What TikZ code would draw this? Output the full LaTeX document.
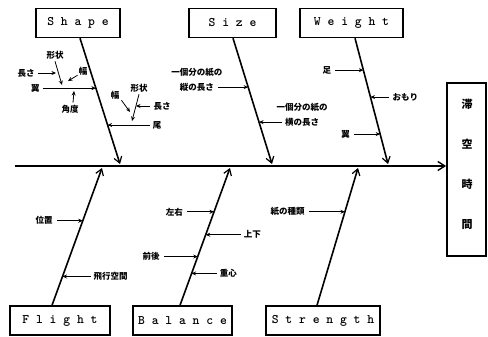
\documentclass[tikz,border=0pt]{standalone}
\usepackage{fontspec}
\newfontfamily\jp{Noto Sans CJK JP}
\usetikzlibrary{arrows.meta,calc}
\begin{document}
\begin{tikzpicture}[x=1pt,y=-1pt,
  cat/.style={draw,line width=1.4pt,minimum height=29pt,inner sep=0pt,font=\ttfamily\bfseries\fontsize{13}{13}\selectfont},
  main/.style={line width=1.6pt,-{Straight Barb[length=6pt,width=8pt,line width=1.2pt]}},
  sub/.style={line width=0.8pt,-{Stealth[length=4.5pt,width=4pt]}},
  jl/.style={font=\jp\bfseries\fontsize{8.5}{10}\selectfont,inner sep=0pt}]
\useasboundingbox[fill=white] (0,0) rectangle (488,337);

% category boxes
\node[cat,minimum width=84pt] (shape) at (78,23) {S h a p e};
\node[cat,minimum width=87pt] (size) at (232.5,23) {S i z e};
\node[cat,minimum width=103pt] (weight) at (351.5,23) {W e i g h t};
\node[cat,minimum width=100pt] (flight) at (60,320.5) {F l i g h t};
\node[cat,minimum width=99pt] (balance) at (182.5,320.5) {B a l a n c e};
\node[cat,minimum width=114pt] (strength) at (323,320.5) {S t r e n g t h};

% effect
\node[draw,line width=1.8pt,minimum width=39pt,minimum height=173pt] (effect) at (466.5,169.5) {};
\node[font=\jp\bfseries\fontsize{11}{40}\selectfont,align=center,inner sep=0pt] (efftxt) at (467,164) {滞\\空\\時\\間};

% spine
\coordinate (tail) at (15,166);
\draw[line width=2.2pt,-{Straight Barb[length=7pt,width=9pt,line width=1.4pt]}] (tail) -- (tail -| effect.west);

% main bones
\coordinate (shT) at ([xshift=2pt]shape.south);
\coordinate (shB) at (120,164);
\coordinate (szT) at ([xshift=0.5pt]size.south);
\coordinate (szB) at (272,164);
\coordinate (wtT) at ([xshift=3.5pt]weight.south);
\coordinate (wtB) at (388,164);
\coordinate (flB) at ([xshift=-8pt]flight.north);
\coordinate (flT) at (102,168);
\coordinate (baB) at ([xshift=-2.5pt]balance.north);
\coordinate (baT) at (230,168);
\coordinate (stB) at ([xshift=-6pt]strength.north);
\coordinate (stT) at (358,168);

\draw[main] (shT) -- (shB);
\draw[main] (szT) -- (szB);
\draw[main] (wtT) -- (wtB);
\draw[main] (flB) -- (flT);
\draw[main] (baB) -- (baT);
\draw[main] (stB) -- (stT);

% points on bones
\path (shT) -- (shB) coordinate[pos=0.397] (shW) coordinate[pos=0.69] (shO);
\path (szT) -- (szB) coordinate[pos=0.389] (szA) coordinate[pos=0.667] (szC);
\path (wtT) -- (wtB) coordinate[pos=0.254] (wtA) coordinate[pos=0.468] (wtM) coordinate[pos=0.762] (wtC);
\path (flB) -- (flT) coordinate[pos=0.616] (flA) coordinate[pos=0.21] (flC);
\path (baB) -- (baT) coordinate[pos=0.681] (baA) coordinate[pos=0.514] (baM) coordinate[pos=0.355] (baC) coordinate[pos=0.232] (baD);
\path (stB) -- (stT) coordinate[pos=0.681] (stA);

% Shape: wing
\node[jl,anchor=east] (wing) at ([xshift=-56pt]shW) {翼};
\draw[sub] ([xshift=3pt]wing.east) -- (shW);
\node[jl] (wl) at (26,73) {長さ};
\coordinate (wlE) at (56,73);
\draw[sub] ([xshift=3pt]wl.east) -- (wlE);
\node[jl] (ws) at (55,55) {形状};
\coordinate (wsE) at (62,85);
\draw[sub] ([yshift=-2pt]ws.south) -- (wsE);
\node[jl] (ww) at (83,71) {幅};
\coordinate (wwE) at (68,81);
\draw[sub] ([xshift=-1pt]ww.south west) -- (wwE);
\node[jl] (wa) at (70,109) {角度};
\coordinate (waE) at (74,91);
\draw[sub] ([xshift=3pt,yshift=2pt]wa.north) -- (waE);

% Shape: tail
\node[jl,anchor=west] (tl) at ([xshift=45pt]shO) {尾};
\draw[sub] ([xshift=-3pt]tl.west) -- (shO);
\node[jl] (to1) at (139,88) {形状};
\coordinate (to1E) at (132,121);
\draw[sub] ([yshift=-2pt]to1.south) -- (to1E);
\node[jl] (to2) at (115,95) {幅};
\coordinate (to2E) at (130,112);
\draw[sub] ([xshift=2pt,yshift=-1pt]to2.south east) -- (to2E);
\node[jl] (to3) at (162,106) {長さ};
\coordinate (to3E) at (136,106);
\draw[sub] ([xshift=-3pt]to3.west) -- (to3E);

% Size
\node[jl,anchor=east] (sz1b) at ([xshift=-34pt]szA) {縦の長さ};
\node[jl] (sz1a) at ([yshift=15pt]sz1b) {一個分の紙の};
\draw[sub] ([xshift=4pt]sz1b.east) -- (szA);
\node[jl,anchor=west] (sz2b) at ([xshift=26pt]szC) {横の長さ};
\node[jl] (sz2a) at ([yshift=15pt]sz2b) {一個分の紙の};
\draw[sub] ([xshift=-3pt]sz2b.west) -- (szC);

% Weight
\node[jl,anchor=east] (wt1) at ([xshift=-32pt]wtA) {足};
\draw[sub] ([xshift=4pt]wt1.east) -- (wtA);
\node[jl,anchor=west] (wt2) at ([xshift=22pt]wtM) {おもり};
\draw[sub] ([xshift=-3pt]wt2.west) -- (wtM);
\node[jl,anchor=east] (wt3) at ([xshift=-30pt]wtC) {翼};
\draw[sub] ([xshift=4pt]wt3.east) -- (wtC);

% Flight
\node[jl,anchor=east] (fl1) at ([xshift=-30pt]flA) {位置};
\draw[sub] ([xshift=4pt]fl1.east) -- (flA);
\node[jl,anchor=west] (fl2) at ([xshift=31pt]flC) {飛行空間};
\draw[sub] ([xshift=-3pt]fl2.west) -- (flC);

% Balance
\node[jl,anchor=east] (ba1) at ([xshift=-31pt]baA) {左右};
\draw[sub] ([xshift=4pt]ba1.east) -- (baA);
\node[jl,anchor=west] (ba2) at ([xshift=38pt]baM) {上下};
\draw[sub] ([xshift=-3pt]ba2.west) -- (baM);
\node[jl,anchor=east] (ba3) at ([xshift=-38pt]baC) {前後};
\draw[sub] ([xshift=4pt]ba3.east) -- (baC);
\node[jl,anchor=west] (ba4) at ([xshift=28pt]baD) {重心};
\draw[sub] ([xshift=-3pt]ba4.west) -- (baD);

% Strength
\node[jl,anchor=east] (st1) at ([xshift=-40pt]stA) {紙の種類};
\draw[sub] ([xshift=4pt]st1.east) -- (stA);
\end{tikzpicture}
\end{document}
